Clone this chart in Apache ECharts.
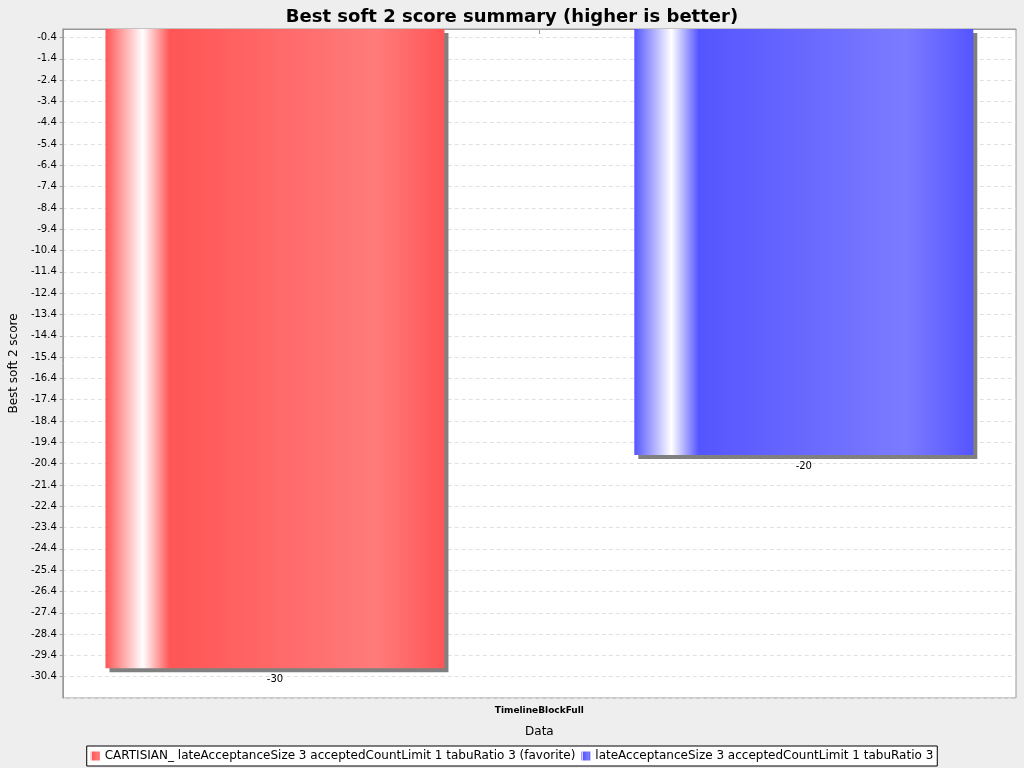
<!DOCTYPE html>
<html><head><meta charset="utf-8">
<script src="https://cdn.jsdelivr.net/npm/echarts@6/dist/echarts.min.js"></script>
<style>html,body{margin:0;padding:0;background:#eeeeee}#c{width:1024px;height:768px}</style>
</head><body><div id="c"></div>
<script>
// data
const categories = ['TimelineBlockFull'];
const seriesNames = [
  'CARTISIAN_ lateAcceptanceSize 3 acceptedCountLimit 1 tabuRatio 3 (favorite)',
  'lateAcceptanceSize 3 acceptedCountLimit 1 tabuRatio 3'
];
const redValues = [-30];
const blueValues = [-20];

function grad(base, light) {
  return new echarts.graphic.LinearGradient(0, 0, 1, 0, [
    {offset: 0, color: base}, {offset: 0.11, color: '#ffffff'},
    {offset: 0.19, color: base}, {offset: 0.8, color: light}, {offset: 1, color: base}
  ]);
}
function bar(name, data, base, light, legendColor) {
  return {
    name, type: 'bar', data, barWidth: 339, barGap: '56%',
    color: legendColor,
    itemStyle: {color: grad(base, light), shadowColor: '#808080', shadowOffsetX: 4, shadowOffsetY: 4, shadowBlur: 0},
    label: {show: true, position: 'bottom', distance: 6, color: '#000', fontSize: 10, fontFamily: 'DejaVu Sans'}
  };
}
const chart = echarts.init(document.getElementById('c'));
chart.setOption({
  backgroundColor: '#eeeeee',
  animation: false,
  title: {text: 'Best soft 2 score summary (higher is better)', left: 'center', top: 3,
    textStyle: {fontSize: 18, fontWeight: 'bold', color: '#000', fontFamily: 'DejaVu Sans'}},
  legend: {bottom: 2, left: 'center', itemWidth: 9, itemHeight: 9, itemGap: 6, icon: 'rect',
    borderColor: '#000', borderWidth: 1, borderRadius: 0, padding: [4, 4],
    backgroundColor: '#fff',
    textStyle: {fontSize: 12, color: '#000', fontFamily: 'DejaVu Sans'}},
  grid: {left: 52, right: 8, top: 29, bottom: 70, show: true, backgroundColor: '#fff', borderColor: '#999', borderWidth: 1},
  xAxis: {type: 'category', data: categories, name: 'Data', nameLocation: 'middle', nameGap: 28,
    nameTextStyle: {fontSize: 12, color: '#000', fontFamily: 'DejaVu Sans'},
    axisLine: {lineStyle: {color: '#999'}}, axisTick: {show: true, alignWithLabel: true},
    axisLabel: {fontSize: 9, fontWeight: 'bold', color: '#000', fontFamily: 'DejaVu Sans', margin: 8}},
  yAxis: {type: 'value', min: -31.4, max: 0, interval: 1, name: 'Best soft 2 score',
    nameLocation: 'middle', nameGap: 32, nameRotate: 90,
    nameTextStyle: {fontSize: 12, color: '#000', fontFamily: 'DejaVu Sans'},
    axisLine: {show: true, lineStyle: {color: '#999'}}, axisTick: {show: true, length: 3},
    axisLabel: {showMinLabel: false, fontSize: 10, color: '#000', fontFamily: 'DejaVu Sans', margin: 6},
    splitLine: {lineStyle: {color: '#e0e0e0', type: [4, 3]}}},
  series: [
    bar(seriesNames[0], redValues, '#ff5555', '#ff7b7b', '#ff5555'),
    bar(seriesNames[1], blueValues, '#5555ff', '#7b7bff', '#5555ff')
  ]
});
</script></body></html>
